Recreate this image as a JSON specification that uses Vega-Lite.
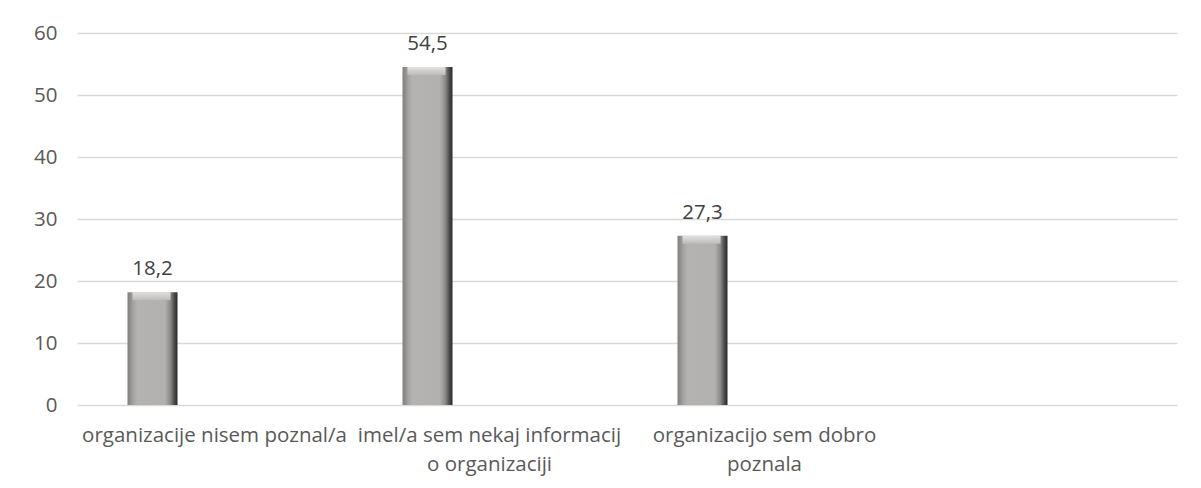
{
  "$schema": "https://vega.github.io/schema/vega-lite/v6.json",
  "width": 1100,
  "height": 372,
  "autosize": {"type": "none"},
  "padding": {"left": 77, "top": 33, "right": 24, "bottom": 83},
  "background": "white",
  "config": {
    "view": {"stroke": null},
    "font": "Open Sans",
    "locale": {"number": {"decimal": ",", "thousands": ".", "grouping": [3], "currency": ["", " €"]}}
  },
  "data": {
    "values": [
      {"kategorija": "organizacije nisem poznal/a", "odstotek": 18.2},
      {"kategorija": "imel/a sem nekaj informacij o organizaciji", "odstotek": 54.5},
      {"kategorija": "organizacijo sem dobro poznala", "odstotek": 27.3}
    ]
  },
  "encoding": {
    "x": {
      "field": "kategorija",
      "type": "nominal",
      "sort": null,
      "scale": {
        "domain": ["organizacije nisem poznal/a", "imel/a sem nekaj informacij o organizaciji", "organizacijo sem dobro poznala", " "],
        "paddingInner": 0,
        "paddingOuter": 0
      },
      "axis": {
        "title": null,
        "labelAngle": 0,
        "ticks": false,
        "domain": false,
        "grid": false,
        "labelFontSize": 20.5,
        "labelColor": "#595959",
        "labelPadding": 20,
        "labelLimit": 400,
        "labelLineHeight": 29,
        "labelExpr": "datum.value == 'imel/a sem nekaj informacij o organizaciji' ? ['imel/a sem nekaj informacij', 'o organizaciji'] : datum.value == 'organizacijo sem dobro poznala' ? ['organizacijo sem dobro', 'poznala'] : datum.value"
      }
    },
    "y": {
      "field": "odstotek",
      "type": "quantitative",
      "scale": {"domain": [0, 60]},
      "axis": {
        "title": null,
        "values": [0, 10, 20, 30, 40, 50, 60],
        "ticks": false,
        "domain": false,
        "grid": true,
        "gridColor": "#d9d9d9",
        "gridWidth": 1.5,
        "labelFontSize": 20.5,
        "labelColor": "#595959",
        "labelPadding": 20
      }
    }
  },
  "layer": [
    {
      "mark": {
        "type": "bar",
        "width": 50,
        "xOffset": -62,
        "fill": {
          "gradient": "linear",
          "x1": 0, "y1": 0, "x2": 1, "y2": 0,
          "stops": [
            {"offset": 0, "color": "#7f7d7d"},
            {"offset": 0.12, "color": "#a6a3a3"},
            {"offset": 0.2, "color": "#b5b2b2"},
            {"offset": 0.75, "color": "#b3b0b0"},
            {"offset": 0.86, "color": "#8a8787"},
            {"offset": 0.94, "color": "#4a4848"},
            {"offset": 1, "color": "#2a2a2a"}
          ]
        }
      }
    },
    {
      "mark": {
        "type": "bar",
        "width": 38,
        "xOffset": -63,
        "y2Offset": 8,
        "fill": {
          "gradient": "linear",
          "x1": 0, "y1": 0, "x2": 0, "y2": 1,
          "stops": [
            {"offset": 0, "color": "#e2e0e0"},
            {"offset": 1, "color": "#bdbaba"}
          ]
        }
      },
      "encoding": {
        "y2": {"field": "odstotek"}
      }
    },
    {
      "mark": {
        "type": "text",
        "xOffset": -62,
        "dy": -17,
        "baseline": "alphabetic",
        "fontSize": 20.5,
        "color": "#404040"
      },
      "encoding": {
        "text": {"field": "odstotek", "type": "quantitative", "format": ".1f"}
      }
    }
  ]
}
